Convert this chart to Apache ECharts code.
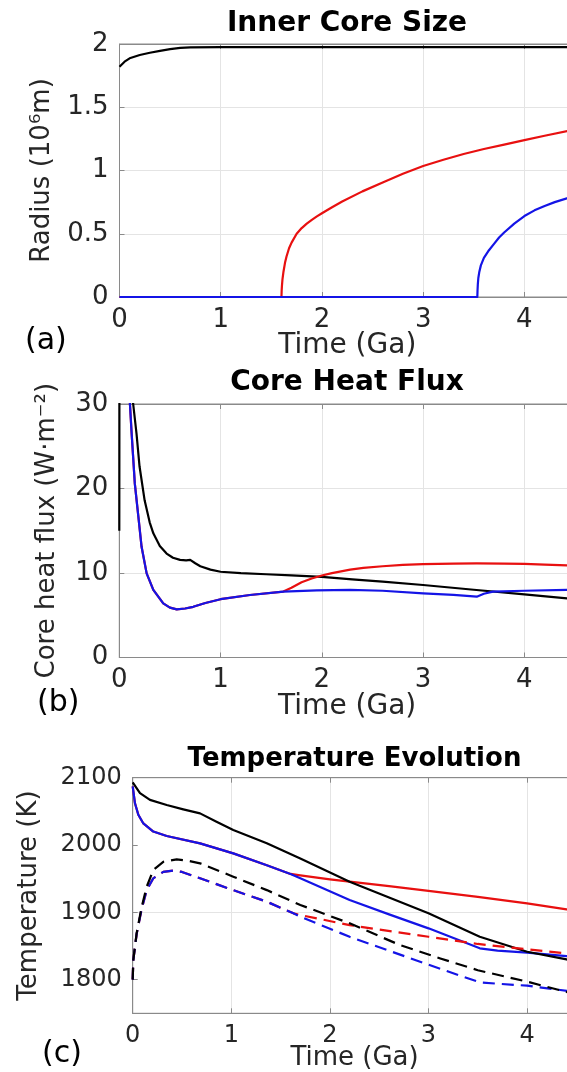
<!DOCTYPE html>
<html>
<head>
<meta charset="utf-8">
<script src="https://cdn.jsdelivr.net/npm/echarts@6/dist/echarts.min.js"></script>
<style>
  html, body { margin: 0; padding: 0; background: #fff; }
  #chart { width: 567px; height: 1072px; }
</style>
</head>
<body>
<div id="chart"></div>
<script>
// ---- data: [time (Ga), value] ----
// (a) inner core radius, 10^6 m
var radiusBlack = [[0,1.82],[0.05,1.86],[0.1,1.887],[0.2,1.913],[0.3,1.931],[0.4,1.946],[0.5,1.959],[0.6,1.969],[0.7,1.974],[1.0,1.975],[2.0,1.975],[3.0,1.975],[4.0,1.975],[4.5,1.975]];
var radiusRed = [[0,0],[1.6,0],[1.602,0.05],[1.605,0.09],[1.61,0.14],[1.62,0.2],[1.635,0.27],[1.65,0.32],[1.675,0.385],[1.7,0.43],[1.75,0.5],[1.8,0.545],[1.85,0.58],[1.9,0.61],[1.95,0.637],[2.0,0.662],[2.1,0.71],[2.2,0.755],[2.4,0.835],[2.6,0.905],[2.8,0.975],[3.0,1.035],[3.2,1.085],[3.4,1.13],[3.6,1.17],[3.8,1.205],[4.0,1.24],[4.2,1.275],[4.5,1.325]];
var radiusBlue = [[0,0],[3.535,0],[3.537,0.05],[3.54,0.1],[3.545,0.15],[3.555,0.2],[3.57,0.25],[3.6,0.31],[3.65,0.37],[3.7,0.42],[3.75,0.47],[3.8,0.51],[3.9,0.58],[4.0,0.64],[4.1,0.685],[4.2,0.72],[4.3,0.75],[4.42,0.78],[4.5,0.8]];

// (b) core heat flux, W/m^2
var fluxBlack = [[0,15],[0.003,60],[0.05,45],[0.1,36],[0.137,30],[0.17,26.5],[0.2,22.6],[0.25,18.6],[0.3,16],[0.336,14.7],[0.4,13.2],[0.467,12.3],[0.53,11.8],[0.6,11.55],[0.66,11.5],[0.7,11.55],[0.75,11.15],[0.8,10.8],[0.9,10.4],[1.0,10.15],[1.2,9.98],[1.45,9.85],[1.7,9.72],[2.0,9.55],[2.3,9.25],[2.6,8.97],[3.0,8.58],[3.5,8.02],[4.0,7.46],[4.5,6.92]];
var fluxRed = [[0.08,45],[0.105,30],[0.122,26.5],[0.153,20.6],[0.188,16.7],[0.22,13.1],[0.27,9.96],[0.336,8.0],[0.434,6.4],[0.5,5.9],[0.567,5.7],[0.65,5.8],[0.73,6.0],[0.85,6.45],[1.0,6.9],[1.29,7.4],[1.62,7.8],[1.7,8.25],[1.8,8.9],[1.9,9.35],[2.0,9.7],[2.1,9.98],[2.28,10.4],[2.41,10.6],[2.6,10.8],[2.8,10.97],[3.0,11.05],[3.3,11.12],[3.53,11.15],[3.8,11.12],[4.0,11.07],[4.2,11.0],[4.5,10.88]];
var fluxBlue = [[0.08,45],[0.105,30],[0.122,26.5],[0.153,20.6],[0.188,16.7],[0.22,13.1],[0.27,9.96],[0.336,8.0],[0.434,6.4],[0.5,5.9],[0.567,5.7],[0.65,5.8],[0.73,6.0],[0.85,6.45],[1.0,6.9],[1.29,7.4],[1.62,7.8],[1.95,7.95],[2.28,8.0],[2.6,7.9],[3.0,7.6],[3.3,7.4],[3.53,7.2],[3.6,7.55],[3.69,7.8],[4.0,7.9],[4.42,8.0],[4.5,8.02]];

// (c) temperatures, K (solid and dashed)
var tempBlack = [[0,2093],[0.074,2077],[0.175,2067],[0.345,2059.5],[0.513,2053],[0.683,2047],[0.85,2034.5],[1.02,2022.3],[1.36,2002.5],[1.7,1980],[2.2,1945.5],[2.6,1922],[3.0,1898.5],[3.52,1863.7],[4.0,1841.4],[4.4,1830],[4.5,1827]];
var tempRed = [[0,2087],[0.023,2062],[0.057,2045],[0.108,2032],[0.209,2020],[0.345,2013.4],[0.683,2002.5],[1.02,1987.6],[1.36,1970],[1.6,1957],[1.7,1955],[2.0,1949],[2.2,1945.5],[2.6,1939],[3.0,1932],[3.5,1923],[4.0,1913.4],[4.4,1904.4],[4.5,1902]];
var tempBlue = [[0,2087],[0.023,2062],[0.057,2045],[0.108,2032],[0.209,2020],[0.345,2013.4],[0.683,2002.5],[1.02,1987.6],[1.36,1970],[1.6,1957],[1.7,1950.5],[2.2,1918.3],[2.6,1897],[3.0,1876.2],[3.52,1846.5],[3.7,1843],[4.0,1840],[4.4,1835],[4.5,1834]];
var tempBlackDash = [[0,1800],[0.006,1829],[0.04,1869],[0.091,1908],[0.142,1938],[0.209,1963],[0.31,1975],[0.446,1978.7],[0.55,1977],[0.683,1972.8],[1.02,1953],[1.36,1933],[1.7,1911],[2.2,1883.7],[2.71,1851.4],[3.12,1831.5],[3.5,1814],[4.0,1797],[4.42,1781],[4.5,1779]];
var tempRedDash = [[0,1800],[0.006,1829],[0.04,1868],[0.091,1905],[0.142,1933],[0.209,1950.5],[0.31,1960],[0.41,1962],[0.5,1960],[0.683,1950.5],[1.02,1933],[1.36,1915.8],[1.63,1898.5],[1.7,1896],[2.2,1881],[3.0,1863.7],[3.5,1853],[4.0,1845],[4.4,1839],[4.5,1838]];
var tempBlueDash = [[0,1800],[0.006,1829],[0.04,1868],[0.091,1905],[0.142,1933],[0.209,1950.5],[0.31,1960],[0.41,1962],[0.5,1960],[0.683,1950.5],[1.02,1933],[1.36,1915.8],[1.63,1898.5],[1.7,1893.5],[2.2,1863.7],[2.85,1830],[3.2,1812],[3.52,1796],[3.7,1794],[4.0,1791],[4.42,1783],[4.5,1782]];

var timeTicks = { min: 0, max: 4.5, interval: 1 };

// ---- styling ----
var FONT = 'DejaVu Sans';
var AXIS_GRAY = '#8a8a8a', GRID_GRAY = '#e4e4e4', TEXT = '#262626';
var RED = '#e81010', BLUE = '#1414e6', BLACK = '#000000';

var panels = [
  { left: 119.5, right: -8, top: 44, height: 253, tick: 26, name: 28, xGap: 35, yName: 'Radius (10⁶m)', yGap: 64,
    y: { min: 0, max: 2, interval: 0.5 } },
  { left: 119.3, right: -8, top: 404, height: 253.5, tick: 26, name: 28, xGap: 35, yName: 'Core heat flux (W·m⁻²)', yGap: 59,
    y: { min: 0, max: 30, interval: 10 } },
  { left: 132.7, right: -9.4, top: 777.7, height: 235.6, tick: 24, name: 26, xGap: 32, yName: 'Temperature (K)', yGap: 90,
    y: { min: 1750, max: 2100, interval: 50 } }
];

var grids = [], xAxes = [], yAxes = [];
panels.forEach(function (p, i) {
  grids.push({ left: p.left, right: p.right, top: p.top, height: p.height, show: true,
    borderColor: AXIS_GRAY, borderWidth: 1, outerBoundsMode: 'none', containLabel: false });
  xAxes.push({
    type: 'value', gridIndex: i, min: timeTicks.min, max: timeTicks.max, interval: timeTicks.interval,
    position: 'bottom', name: 'Time (Ga)', nameLocation: 'middle', nameGap: p.xGap, nameMoveOverlap: false,
    nameTextStyle: { fontFamily: FONT, fontSize: p.name, color: TEXT },
    axisLine: { show: true, onZero: false, lineStyle: { color: AXIS_GRAY, width: 1 } },
    axisTick: { show: true, inside: true, length: 5, lineStyle: { color: AXIS_GRAY } },
    axisLabel: { fontFamily: FONT, fontSize: p.tick, color: TEXT, margin: 10, showMaxLabel: false },
    splitLine: { show: true, lineStyle: { color: GRID_GRAY, width: 1 } }
  });
  xAxes.push({
    type: 'value', gridIndex: i, min: timeTicks.min, max: timeTicks.max, interval: timeTicks.interval,
    position: 'top',
    axisLine: { show: true, onZero: false, lineStyle: { color: AXIS_GRAY, width: 1 } },
    axisTick: { show: true, inside: true, length: 5, lineStyle: { color: AXIS_GRAY } },
    axisLabel: { show: false }, splitLine: { show: false }
  });
  var ya = {
    type: 'value', gridIndex: i, min: p.y.min, max: p.y.max, interval: p.y.interval,
    position: 'left', name: p.yName, nameLocation: 'middle', nameGap: p.yGap, nameMoveOverlap: false,
    nameTextStyle: { fontFamily: FONT, fontSize: 26, color: TEXT },
    axisLine: { show: true, onZero: false, lineStyle: { color: AXIS_GRAY, width: 1 } },
    axisTick: { show: true, inside: true, length: 5, lineStyle: { color: AXIS_GRAY } },
    axisLabel: { fontFamily: FONT, fontSize: p.tick, color: TEXT, margin: 11 },
    splitLine: { show: true, lineStyle: { color: GRID_GRAY, width: 1 } }
  };
  if (i === 2) {
    // labelled every 100 K, axis range starts at 1750
    ya.axisLabel.formatter = function (v) { return v % 100 === 0 ? String(v) : ''; };
    ya.axisTick.customValues = [1800, 1900, 2000, 2100];
    ya.splitLine.lineStyle.color = ['rgba(0,0,0,0)', GRID_GRAY];
  }
  yAxes.push(ya);
});

function lineSeries(data, color, panel, dashed) {
  return {
    type: 'line', xAxisIndex: panel * 2, yAxisIndex: panel, data: data,
    symbol: 'none', clip: true, silent: true, animation: false,
    lineStyle: { color: color, width: 2.2, type: dashed ? [12, 7] : 'solid', join: 'round' }
  };
}

function label(text, x, y, font, align) {
  return { type: 'text', x: x, y: y, silent: true,
    style: { text: text, font: font, fill: '#000', textAlign: align, textVerticalAlign: 'middle' } };
}

var chart = echarts.init(document.getElementById('chart'), null, { renderer: 'canvas' });
chart.setOption({
  animation: false,
  backgroundColor: '#fff',
  grid: grids,
  xAxis: xAxes,
  yAxis: yAxes,
  graphic: [
    label('Inner Core Size', 347, 23.5, 'bold 28px "DejaVu Sans"', 'center'),
    label('Core Heat Flux', 347, 383, 'bold 28px "DejaVu Sans"', 'center'),
    label('Temperature Evolution', 354.5, 759, 'bold 26px "DejaVu Sans"', 'center'),
    label('(a)', 25, 341, '30px "DejaVu Sans"', 'left'),
    label('(b)', 37, 703, '30px "DejaVu Sans"', 'left'),
    label('(c)', 42, 1054, '30px "DejaVu Sans"', 'left')
  ],
  series: [
    lineSeries(radiusBlack, BLACK, 0),
    lineSeries(radiusRed, RED, 0),
    lineSeries(radiusBlue, BLUE, 0),
    lineSeries(fluxBlack, BLACK, 1),
    lineSeries(fluxRed, RED, 1),
    lineSeries(fluxBlue, BLUE, 1),
    lineSeries(tempRed, RED, 2),
    lineSeries(tempBlue, BLUE, 2),
    lineSeries(tempBlack, BLACK, 2),
    lineSeries(tempRedDash, RED, 2, true),
    lineSeries(tempBlueDash, BLUE, 2, true),
    lineSeries(tempBlackDash, BLACK, 2, true)
  ]
});
</script>
</body>
</html>
